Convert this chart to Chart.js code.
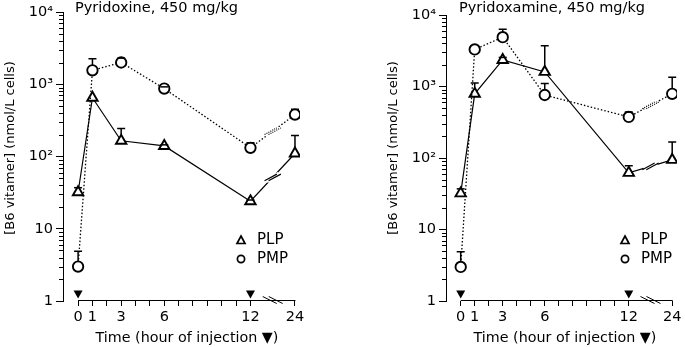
<!DOCTYPE html>
<html>
<head>
<meta charset="utf-8">
<script src="https://cdn.jsdelivr.net/npm/chart.js@4"></script>
<style>
  body { margin: 0; background: #fff; width: 685px; height: 347px; overflow: hidden; }
  canvas { position: absolute; top: 0; }
</style>
</head>
<body>
<canvas id="left" width="342" height="347" style="left:0"></canvas>
<canvas id="right" width="342" height="347" style="left:343px"></canvas>
<script>
// hours after injection; 24 h sits past an axis break
const hours = [0, 1, 3, 6, 12, 24];
const hourTicks = [0, 1, 2, 3, 4, 5, 6, 7, 8, 9, 10, 11, 12, 24];
const hourLabels = ['0', '1', '3', '6', '12', '24'];
const injectionHours = [0, 12];
const yLabels = { 1: '1', 10: '10', 100: '10²', 1000: '10³', 10000: '10⁴' };

// Pyridoxine, 450 mg/kg  (values, and top of the error bar)
const pyridoxinePLP = [32, 650, 165, 140, 24, 110];
const pyridoxinePLPTop = [37, 650, 245, 145, 25, 195];
const pyridoxinePMP = [3.0, 1560, 2000, 870, 132, 380];
const pyridoxinePMPTop = [4.9, 2250, 2300, 920, 155, 450];

// Pyridoxamine, 450 mg/kg
const pyridoxaminePLP = [32, 790, 2350, 1600, 62, 94];
const pyridoxaminePLPTop = [37, 1120, 2550, 3700, 78, 167];
const pyridoxaminePMP = [3.0, 3300, 4900, 760, 375, 790];
const pyridoxaminePMPTop = [4.9, 3300, 6300, 1100, 440, 1350];

Chart.defaults.font.family = 'DejaVu Sans';
Chart.defaults.color = '#000';

const breakPos = 15.1;          // where 24 h is drawn on the linear axis
const toPos = h => (h === 24 ? breakPos : h);
const isMajor = v => Math.abs(Math.log10(v) - Math.round(Math.log10(v))) < 1e-9;

function slashes(ctx, cx, cy, dir, len, gap, dash) {
  const [dx, dy] = dir;
  // white gap between the two marks
  ctx.save();
  ctx.strokeStyle = '#fff';
  ctx.lineWidth = gap + 1;
  ctx.beginPath();
  ctx.moveTo(cx - dx * len / 2, cy - dy * len / 2);
  ctx.lineTo(cx + dx * len / 2, cy + dy * len / 2);
  ctx.stroke();
  ctx.restore();
  ctx.save();
  ctx.setLineDash(dash);
  ctx.lineWidth = 1.2;
  ctx.beginPath();
  [-gap / 2, gap / 2].forEach(off => {
    ctx.moveTo(cx + off - dx * len / 2, cy - dy * len / 2);
    ctx.lineTo(cx + off + dx * len / 2, cy + dy * len / 2);
  });
  ctx.stroke();
  ctx.restore();
}

const decor = {
  id: 'decor',
  afterDatasetsDraw(chart) {
    const { ctx, scales: { y } } = chart;
    ctx.save();
    ctx.strokeStyle = '#000';
    ctx.lineWidth = 1.5;
    chart.data.datasets.forEach((ds, i) => {
      const meta = chart.getDatasetMeta(i);
      meta.data.forEach((pt, j) => {
        const yTop = y.getPixelForValue(ds.tops[j]);
        const r = ds.pointRadius;
        ctx.beginPath();
        if (yTop < pt.y - r) {
          ctx.moveTo(pt.x, pt.y - r);
          ctx.lineTo(pt.x, yTop);
        }
        if (yTop < pt.y - 1) {
          ctx.moveTo(pt.x - 4, yTop);
          ctx.lineTo(pt.x + 4, yTop);
        }
        ctx.stroke();
      });
      // break mark on the 12 -> 24 h segment
      const a = meta.data[4], b = meta.data[5];
      slashes(ctx, (a.x + b.x) / 2, (a.y + b.y) / 2, [0.88, -0.47], 14, 4,
        ds.borderDash.length ? [1, 1.2] : []);
    });
    ctx.restore();
  },
  afterDraw(chart) {
    const o = chart.options.plugins.decor;
    const { ctx, chartArea: area, scales: { x, y } } = chart;
    ctx.save();
    ctx.strokeStyle = '#000';
    ctx.fillStyle = '#000';
    ctx.lineWidth = 1;

    // minor log ticks
    ctx.beginPath();
    y.ticks.forEach(t => {
      if (isMajor(t.value)) return;
      const py = Math.round(y.getPixelForValue(t.value)) + 0.5;
      ctx.moveTo(area.left - 4, py);
      ctx.lineTo(area.left, py);
    });
    ctx.stroke();

    // time axis line with break
    const by = area.bottom - 0.5;
    ctx.beginPath();
    ctx.moveTo(x.getPixelForValue(0), by);
    ctx.lineTo(x.getPixelForValue(breakPos) + 0.5, by);
    ctx.stroke();
    const bx = x.getPixelForValue(13.55);
    ctx.beginPath();
    [-3, 3].forEach(off => {
      ctx.moveTo(bx + off - 7, by - 4);
      ctx.lineTo(bx + off + 7, by + 3);
    });
    ctx.stroke();

    // injection markers
    injectionHours.forEach(h => {
      const px = x.getPixelForValue(h);
      ctx.beginPath();
      ctx.moveTo(px - 4.5, by - 10);
      ctx.lineTo(px + 4.5, by - 10);
      ctx.lineTo(px, by - 2);
      ctx.closePath();
      ctx.fill();
    });

    // texts
    ctx.textBaseline = 'middle';
    ctx.font = '14.5px "DejaVu Sans"';
    ctx.textAlign = 'left';
    ctx.fillText(o.title, o.titleX, 8);
    ctx.font = '14.3px "DejaVu Sans"';
    ctx.textAlign = 'center';
    ctx.fillText('Time (hour of injection ▼)', o.xTitleX, 338);
    ctx.save();
    ctx.translate(o.yTitleX, 148);
    ctx.rotate(-Math.PI / 2);
    ctx.font = '13px "DejaVu Sans"';
    ctx.fillText('[B6 vitamer] (nmol/L cells)', 0, 0);
    ctx.restore();

    // legend
    const lx = o.legendX;
    ctx.lineWidth = 1.7;
    ctx.beginPath();
    ctx.moveTo(lx, 236);
    ctx.lineTo(lx + 4, 243.5);
    ctx.lineTo(lx - 4, 243.5);
    ctx.closePath();
    ctx.stroke();
    ctx.beginPath();
    ctx.arc(lx, 259, 3.6, 0, Math.PI * 2);
    ctx.stroke();
    ctx.font = '15px "DejaVu Sans"';
    ctx.textAlign = 'left';
    ctx.fillText('PLP', lx + 16, 240);
    ctx.fillText('PMP', lx + 16, 259);
    ctx.restore();
  }
};

function makeChart(id, plp, plpTop, pmp, pmpTop, look) {
  const pts = arr => hours.map((h, i) => ({ x: toPos(h), y: arr[i] }));
  return new Chart(document.getElementById(id), {
    type: 'line',
    data: {
      datasets: [
        {
          label: 'PMP',
          data: pts(pmp),
          tops: pmpTop,
          borderColor: '#000',
          borderWidth: 1.3,
          borderDash: [1.5, 2],
          pointStyle: 'circle',
          pointRadius: 5.2,
          pointBorderWidth: 1.9,
          pointBackgroundColor: '#fff',
          pointBorderColor: '#000'
        },
        {
          label: 'PLP',
          data: pts(plp),
          tops: plpTop,
          borderColor: '#000',
          borderWidth: 1.2,
          borderDash: [],
          pointStyle: 'triangle',
          pointRadius: 6,
          pointBorderWidth: 1.9,
          pointBackgroundColor: '#fff',
          pointBorderColor: '#000'
        }
      ]
    },
    options: {
      responsive: false,
      animation: false,
      events: [],
      layout: { padding: { top: look.top, right: look.right, left: 0, bottom: 0 } },
      scales: {
        x: {
          type: 'linear',
          min: -1.05,
          max: 15.45,
          afterFit: s => { s.height = 46; },
          afterBuildTicks: s => { s.ticks = hourTicks.map(h => ({ value: toPos(h) })); },
          grid: { drawOnChartArea: false, tickLength: 5, tickColor: '#000' },
          border: { display: false },
          ticks: {
            autoSkip: false,
            maxRotation: 0,
            padding: 3,
            font: { size: 14.5 },
            callback: v => {
              const h = v === breakPos ? 24 : v;
              const k = hours.indexOf(h);
              return k >= 0 ? hourLabels[k] : '';
            }
          }
        },
        y: {
          type: 'logarithmic',
          min: 1,
          max: 10000,
          afterFit: s => { s.width = look.yWidth; },
          afterBuildTicks: s => {
            const t = [];
            for (let e = 0; e < 4; e++) for (let m = 1; m < 10; m++) t.push({ value: m * Math.pow(10, e) });
            t.push({ value: 10000 });
            s.ticks = t;
          },
          grid: {
            drawOnChartArea: false,
            tickLength: 7,
            tickColor: c => (c.tick && isMajor(c.tick.value) ? '#000' : 'rgba(0,0,0,0)')
          },
          border: { display: true, color: '#000', width: 1 },
          ticks: {
            autoSkip: false,
            padding: 3,
            font: { size: 14.5 },
            callback: v => yLabels[v] || ''
          }
        }
      },
      plugins: {
        legend: { display: false },
        tooltip: { enabled: false },
        decor: look
      }
    },
    plugins: [decor]
  });
}

makeChart('left', pyridoxinePLP, pyridoxinePLPTop, pyridoxinePMP, pyridoxinePMPTop, {
  top: 12, right: 42, yWidth: 63,
  title: 'Pyridoxine, 450 mg/kg', titleX: 75, xTitleX: 187, yTitleX: 11, legendX: 241
});
makeChart('right', pyridoxaminePLP, pyridoxaminePLPTop, pyridoxaminePMP, pyridoxaminePMPTop, {
  top: 15, right: 4, yWidth: 103,
  title: 'Pyridoxamine, 450 mg/kg', titleX: 116, xTitleX: 222, yTitleX: 51, legendX: 282
});
</script>
</body>
</html>
